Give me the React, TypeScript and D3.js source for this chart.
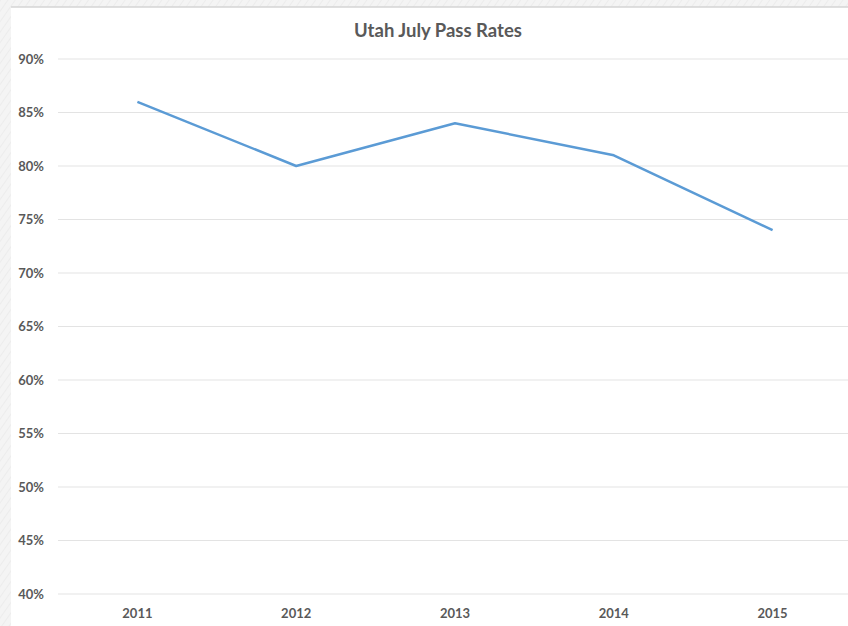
import React from "react";
import * as d3 from "d3";

const years = ["2011", "2012", "2013", "2014", "2015"];
const passRates = [0.86, 0.8, 0.84, 0.81, 0.74];
const yTicks = [0.4, 0.45, 0.5, 0.55, 0.6, 0.65, 0.7, 0.75, 0.8, 0.85, 0.9];
const title = "Utah July Pass Rates";

const W = 848;
const H = 626;
const plotLeft = 58;
const plotRight = 852;
const plotTop = 59;
const plotBottom = 594;

export default function App() {
  const x = d3.scaleBand<string>().domain(years).range([plotLeft, plotRight]);
  const y = d3.scaleLinear().domain([0.4, 0.9]).range([plotBottom, plotTop]);
  const line = d3
    .line<number>()
    .x((_, i) => (x(years[i]) as number) + x.bandwidth() / 2)
    .y((d) => y(d));
  const font = "Lato, 'Open Sans', sans-serif";
  const textColor = "#595959";

  return (
    <svg
      width={W}
      height={H}
      style={{ position: "absolute", left: 0, top: 0 }}
    >
      <defs>
        <pattern id="tex" width="6" height="6" patternUnits="userSpaceOnUse" patternTransform="rotate(35)">
          <rect width="6" height="6" fill="#f4f4f4" />
          <line x1="0" y1="0" x2="0" y2="6" stroke="#ececec" strokeWidth="2" />
        </pattern>
      </defs>
      <rect x={0} y={0} width={W} height={H} fill="url(#tex)" />
      <rect x={11} y={7} width={W - 11} height={H - 7} fill="#ffffff" />
      <line x1={11} x2={W} y1={7} y2={7} stroke="#d4d4d4" strokeWidth={1.5} />
      <text
        x={438}
        y={37}
        textAnchor="middle"
        fontFamily={font}
        fontWeight={700}
        fontSize={18.5}
        fill={textColor}
      >
        {title}
      </text>
      {yTicks.map((t) => (
        <g key={t}>
          <line
            x1={plotLeft}
            x2={W}
            y1={y(t)}
            y2={y(t)}
            stroke="#e3e3e3"
            strokeWidth={1}
          />
          <text
            x={44}
            y={y(t) + 4.5}
            textAnchor="end"
            fontFamily={font}
            fontWeight={700}
            fontSize={13}
            fill={textColor}
          >
            {d3.format(".0%")(t)}
          </text>
        </g>
      ))}
      {years.map((yr) => (
        <text
          key={yr}
          x={(x(yr) as number) + x.bandwidth() / 2}
          y={618}
          textAnchor="middle"
          fontFamily={font}
          fontWeight={700}
          fontSize={13}
          fill={textColor}
        >
          {yr}
        </text>
      ))}
      <path
        d={line(passRates) || ""}
        fill="none"
        stroke="#5b9bd5"
        strokeWidth={2.5}
        strokeLinejoin="round"
      />
    </svg>
  );
}
